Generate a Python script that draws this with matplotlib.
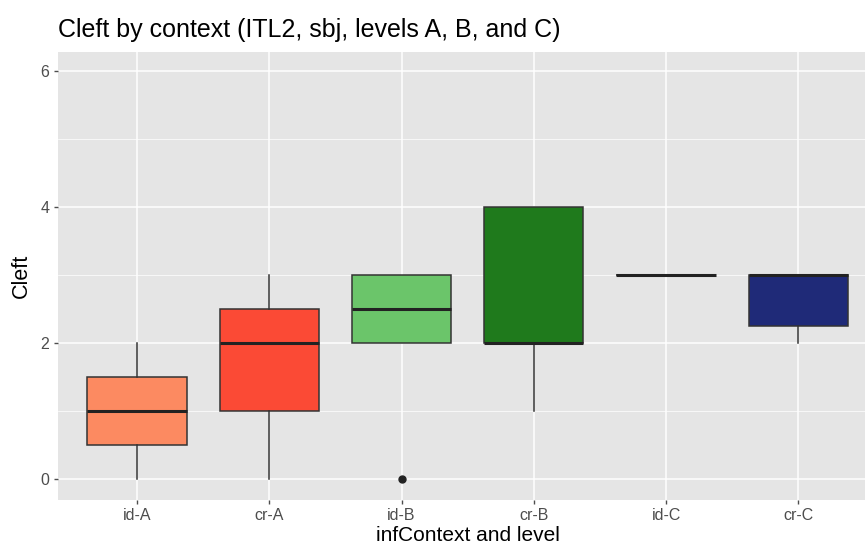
import matplotlib.pyplot as plt

plt.rcParams['font.family'] = ['Liberation Sans', 'DejaVu Sans']

# dados
categorias = ['id-A', 'cr-A', 'id-B', 'cr-B', 'id-C', 'cr-C']
minimos = [0, 0, 2, 1, 3, 2]
q1 = [0.5, 1, 2, 2, 3, 2.25]
medianas = [1, 2, 2.5, 2, 3, 3]
q3 = [1.5, 2.5, 3, 4, 3, 3]
maximos = [2, 3, 3, 4, 3, 3]
outliers = [[], [], [0], [], [], []]
cores = ['#FC8A61', '#FB4A35', '#6BC56A', '#1F7A1C', '#1A2B7A', '#1F2A78']

stats = []
for i in range(len(categorias)):
    stats.append({'label': categorias[i], 'whislo': minimos[i], 'q1': q1[i],
                  'med': medianas[i], 'q3': q3[i], 'whishi': maximos[i],
                  'fliers': outliers[i]})

fig = plt.figure(figsize=(8.65, 5.46), dpi=100)
ax = fig.add_axes([57.7 / 865, 46 / 546, 820 / 865, 448 / 546])
ax.set_facecolor('#E5E5E5')

bp = ax.bxp(stats, positions=range(1, 7), widths=0.75, patch_artist=True,
            showcaps=False,
            boxprops=dict(edgecolor='#333333', linewidth=1.1),
            medianprops=dict(color='#222222', linewidth=2.2),
            whiskerprops=dict(color='#333333', linewidth=1.1),
            flierprops=dict(marker='o', markerfacecolor='#222222',
                            markeredgecolor='#222222', markersize=5))
for caixa, cor in zip(bp['boxes'], cores):
    caixa.set_facecolor(cor)

ax.set_xlim(0.4, 6.6)
ax.set_ylim(-0.31, 6.28)
ax.set_yticks([0, 2, 4, 6])
ax.set_yticks([1, 3, 5], minor=True)
ax.set_xticks(range(1, 7))
ax.set_xticklabels(categorias)
ax.grid(True, which='major', color='white', linewidth=1.1)
ax.grid(True, which='minor', axis='y', color='white', linewidth=0.5)
ax.set_axisbelow(True)
for s in ax.spines.values():
    s.set_visible(False)
ax.tick_params(axis='both', which='major', colors='#4D4D4D', labelsize=11.5,
               length=3, width=1, labelcolor='#4D4D4D', pad=3)
ax.tick_params(axis='y', which='minor', length=0)

ax.set_xlabel('infContext and level', fontsize=15, labelpad=2)
ax.set_ylabel('Cleft', fontsize=15.5, labelpad=6)
fig.text(57.7 / 865, 1 - 30 / 546, 'Cleft by context (ITL2, sbj, levels A, B, and C)',
         fontsize=18, va='center', ha='left')

plt.savefig('out.png', dpi=100)
